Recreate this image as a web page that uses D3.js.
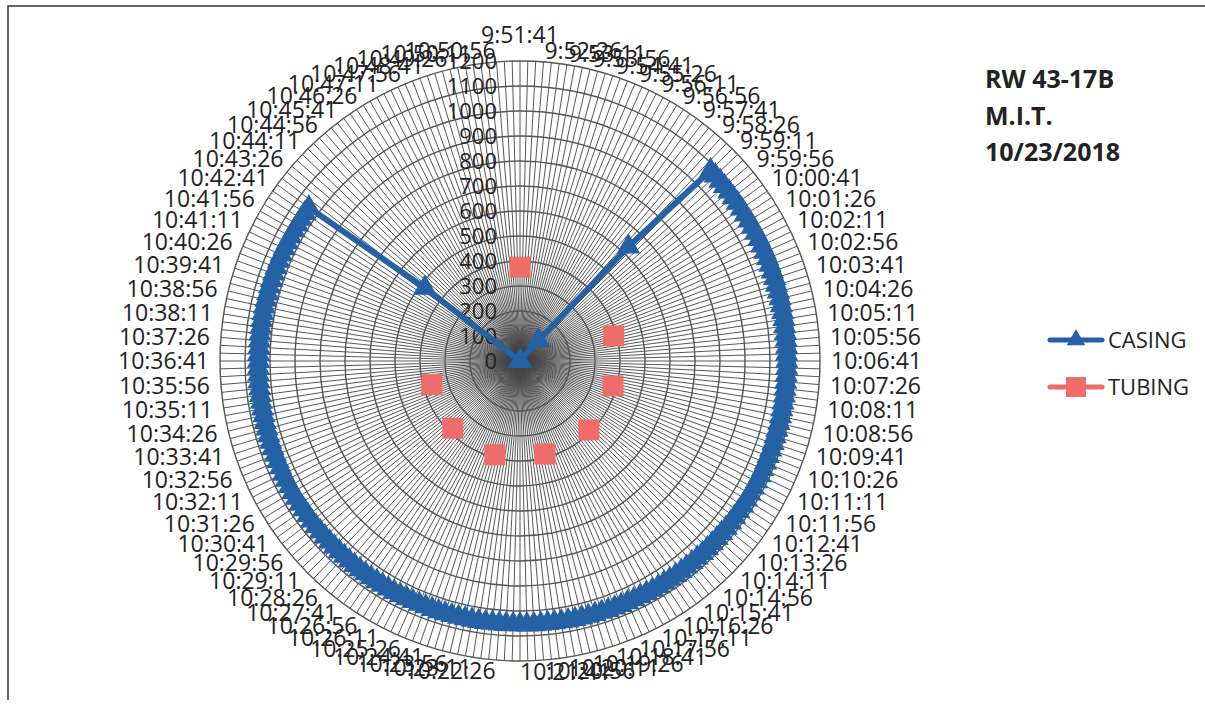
<!DOCTYPE html>
<html>
<head>
<meta charset="utf-8">
<script src="https://cdnjs.cloudflare.com/ajax/libs/d3/7.8.5/d3.min.js"></script>
<style>
  body { margin: 0; background: #fff; }
  svg text { font-family: "Open Sans", Lato, "Liberation Sans", sans-serif; }
</style>
</head>
<body>
<script>
// readings every 15 s starting 9:51:41 (240 categories, labels every 3rd)
var startTime = "9:51:41";
var stepSeconds = 15;
var nCategories = 240;

// casing pressure, one per category (psi)
var casing = [
  0,0,0,0,0,0,0,0,0,0,
  0,0,0,0,0,0,0,0,0,0,
  0,0,0,0,0,0,0,0,110,630,
  1078,1077,1077,1076,1076,1075,1075,1075,1074,1074,
  1073,1073,1073,1072,1072,1072,1071,1071,1071,1070,
  1070,1070,1069,1069,1069,1068,1068,1068,1068,1067,
  1067,1067,1066,1066,1066,1066,1065,1065,1065,1065,
  1064,1064,1064,1064,1063,1063,1063,1063,1062,1062,
  1062,1062,1062,1061,1061,1061,1061,1060,1060,1060,
  1060,1060,1059,1059,1059,1059,1059,1058,1058,1058,
  1058,1058,1057,1057,1057,1057,1057,1057,1056,1056,
  1056,1056,1056,1056,1055,1055,1055,1055,1055,1055,
  1054,1054,1054,1054,1054,1054,1054,1053,1053,1053,
  1053,1053,1053,1053,1052,1052,1052,1052,1052,1052,
  1052,1051,1051,1051,1051,1051,1051,1051,1050,1050,
  1050,1050,1050,1050,1050,1050,1049,1049,1049,1049,
  1049,1049,1049,1049,1048,1048,1048,1048,1048,1048,
  1048,1048,1047,1047,1047,1047,1047,1047,1047,1047,
  1046,1046,1046,1046,1046,1046,1046,1046,1046,1045,
  1045,1045,1045,1045,1045,1045,1045,1045,1045,1044,
  1044,1044,1044,1044,1044,480,0,0,0,0,
  0,0,0,0,0,0,0,0,0,0,
  0,0,0,0,0,0,0,0,0,0,
  0,0,0,0,0,0,0,0,0,0
];

// tubing pressure, only logged at a few times
var tubingTimes  = ["9:51:41", "10:04:11", "10:09:11", "10:14:11", "10:19:11", "10:24:11", "10:29:11", "10:34:11"];
var tubingValues = [375, 388, 385, 390, 385, 388, 380, 365];

var radialTicks = [0,100,200,300,400,500,600,700,800,900,1000,1100,1200];
var titleLines = ["RW 43-17B", "M.I.T.", "10/23/2018"];

var casingColor = "#2461a5";
var tubingColor = "#ee6c6a";

// build category labels
var parts = startTime.split(":").map(Number);
var t0 = parts[0] * 3600 + parts[1] * 60 + parts[2];
var categories = d3.range(nCategories).map(function(i) {
  var s = t0 + i * stepSeconds;
  var h = Math.floor(s / 3600), m = Math.floor(s / 60) % 60, sec = s % 60;
  return h + ":" + d3.format("02")(m) + ":" + d3.format("02")(sec);
});

var W = 1205, H = 714;
var cx = 520, cy = 361, R = 300;

var svg = d3.select("body").append("svg")
    .attr("width", W)
    .attr("height", H);

// chart border (scanned page shows top and left edge)
svg.append("path")
    .attr("d", "M8,700 L8,6 L1205,6")
    .attr("fill", "none")
    .attr("stroke", "#333")
    .attr("stroke-width", 1.5);

var g = svg.append("g").attr("transform", "translate(" + cx + "," + cy + ")");

var r = d3.scaleLinear().domain([0, 1200]).range([0, R]);
var ang = d3.scaleLinear().domain([0, nCategories]).range([0, 2 * Math.PI]);

// spokes
g.append("g").selectAll("line")
    .data(categories)
    .enter().append("line")
    .attr("x1", 0).attr("y1", 0)
    .attr("x2", function(d, i) { return R * Math.sin(ang(i)); })
    .attr("y2", function(d, i) { return -R * Math.cos(ang(i)); })
    .attr("stroke", "#444")
    .attr("stroke-width", 0.9);

// rings
g.append("g").selectAll("circle")
    .data(radialTicks.slice(1))
    .enter().append("circle")
    .attr("r", function(d) { return r(d); })
    .attr("fill", "none")
    .attr("stroke", "#555")
    .attr("stroke-width", 1.4);

// radial axis labels
g.append("g").selectAll("text")
    .data(radialTicks)
    .enter().append("text")
    .attr("x", -23)
    .attr("y", function(d) { return -r(d); })
    .attr("dy", "0.36em")
    .attr("text-anchor", "end")
    .style("font-size", "22px")
    .style("fill", "#222")
    .text(function(d) { return d; });

// casing line + markers
g.append("path")
    .datum(casing)
    .attr("d", d3.lineRadial()
        .angle(function(d, i) { return ang(i); })
        .radius(function(d) { return r(d); }))
    .attr("fill", "none")
    .attr("stroke", casingColor)
    .attr("stroke-width", 6)
    .attr("stroke-linejoin", "round");

g.append("g").selectAll("path")
    .data(casing)
    .enter().append("path")
    .attr("d", d3.symbol(d3.symbolTriangle, 240))
    .attr("transform", function(d, i) {
      return "translate(" + (r(d) * Math.sin(ang(i))) + "," + (-r(d) * Math.cos(ang(i))) + ")";
    })
    .attr("fill", casingColor);

// tubing markers
g.append("g").selectAll("rect")
    .data(tubingValues)
    .enter().append("rect")
    .attr("x", function(d, i) { return r(d) * Math.sin(ang(categories.indexOf(tubingTimes[i]))) - 10.5; })
    .attr("y", function(d, i) { return -r(d) * Math.cos(ang(categories.indexOf(tubingTimes[i]))) - 10.5; })
    .attr("width", 21)
    .attr("height", 21)
    .attr("fill", tubingColor);

// category labels (every 3rd)
var labelR = 311;
g.append("g").selectAll("text")
    .data(categories.filter(function(d, i) { return i % 3 === 0; }))
    .enter().append("text")
    .each(function(d) {
      var i = categories.indexOf(d);
      var a = ang(i);
      var px = labelR * Math.sin(a), py = -labelR * Math.cos(a);
      var sel = d3.select(this).attr("x", px);
      if (i === 0) {
        sel.attr("y", py - 7).attr("text-anchor", "middle");
      } else {
        sel.attr("y", py).attr("dy", "0.36em")
           .attr("text-anchor", i <= nCategories / 2 ? "start" : "end");
      }
    })
    .style("font-size", "23px")
    .style("fill", "#222")
    .text(function(d) { return d; });

// title
svg.append("g").selectAll("text")
    .data(titleLines)
    .enter().append("text")
    .attr("x", 985)
    .attr("y", function(d, i) { return 88 + i * 36.5; })
    .style("font-size", "25px")
    .style("font-weight", "bold")
    .style("fill", "#222")
    .text(function(d) { return d; });

// legend
var legend = svg.append("g");
var legendItems = [
  { name: "CASING", color: casingColor, y: 340, shape: "tri" },
  { name: "TUBING", color: tubingColor, y: 387, shape: "sq" }
];
legendItems.forEach(function(it) {
  legend.append("line")
    .attr("x1", 1050).attr("x2", 1102)
    .attr("y1", it.y).attr("y2", it.y)
    .attr("stroke", it.color)
    .attr("stroke-width", 5)
    .attr("stroke-linecap", "round");
  if (it.shape === "tri") {
    legend.append("path")
      .attr("d", d3.symbol(d3.symbolTriangle, 150))
      .attr("transform", "translate(1076," + it.y + ")")
      .attr("fill", it.color);
  } else {
    legend.append("rect")
      .attr("x", 1066).attr("y", it.y - 10)
      .attr("width", 20).attr("height", 20)
      .attr("fill", it.color);
  }
  legend.append("text")
    .attr("x", 1108)
    .attr("y", it.y)
    .attr("dy", "0.36em")
    .style("font-size", "22px")
    .style("fill", "#222")
    .text(it.name);
});
</script>
</body>
</html>
